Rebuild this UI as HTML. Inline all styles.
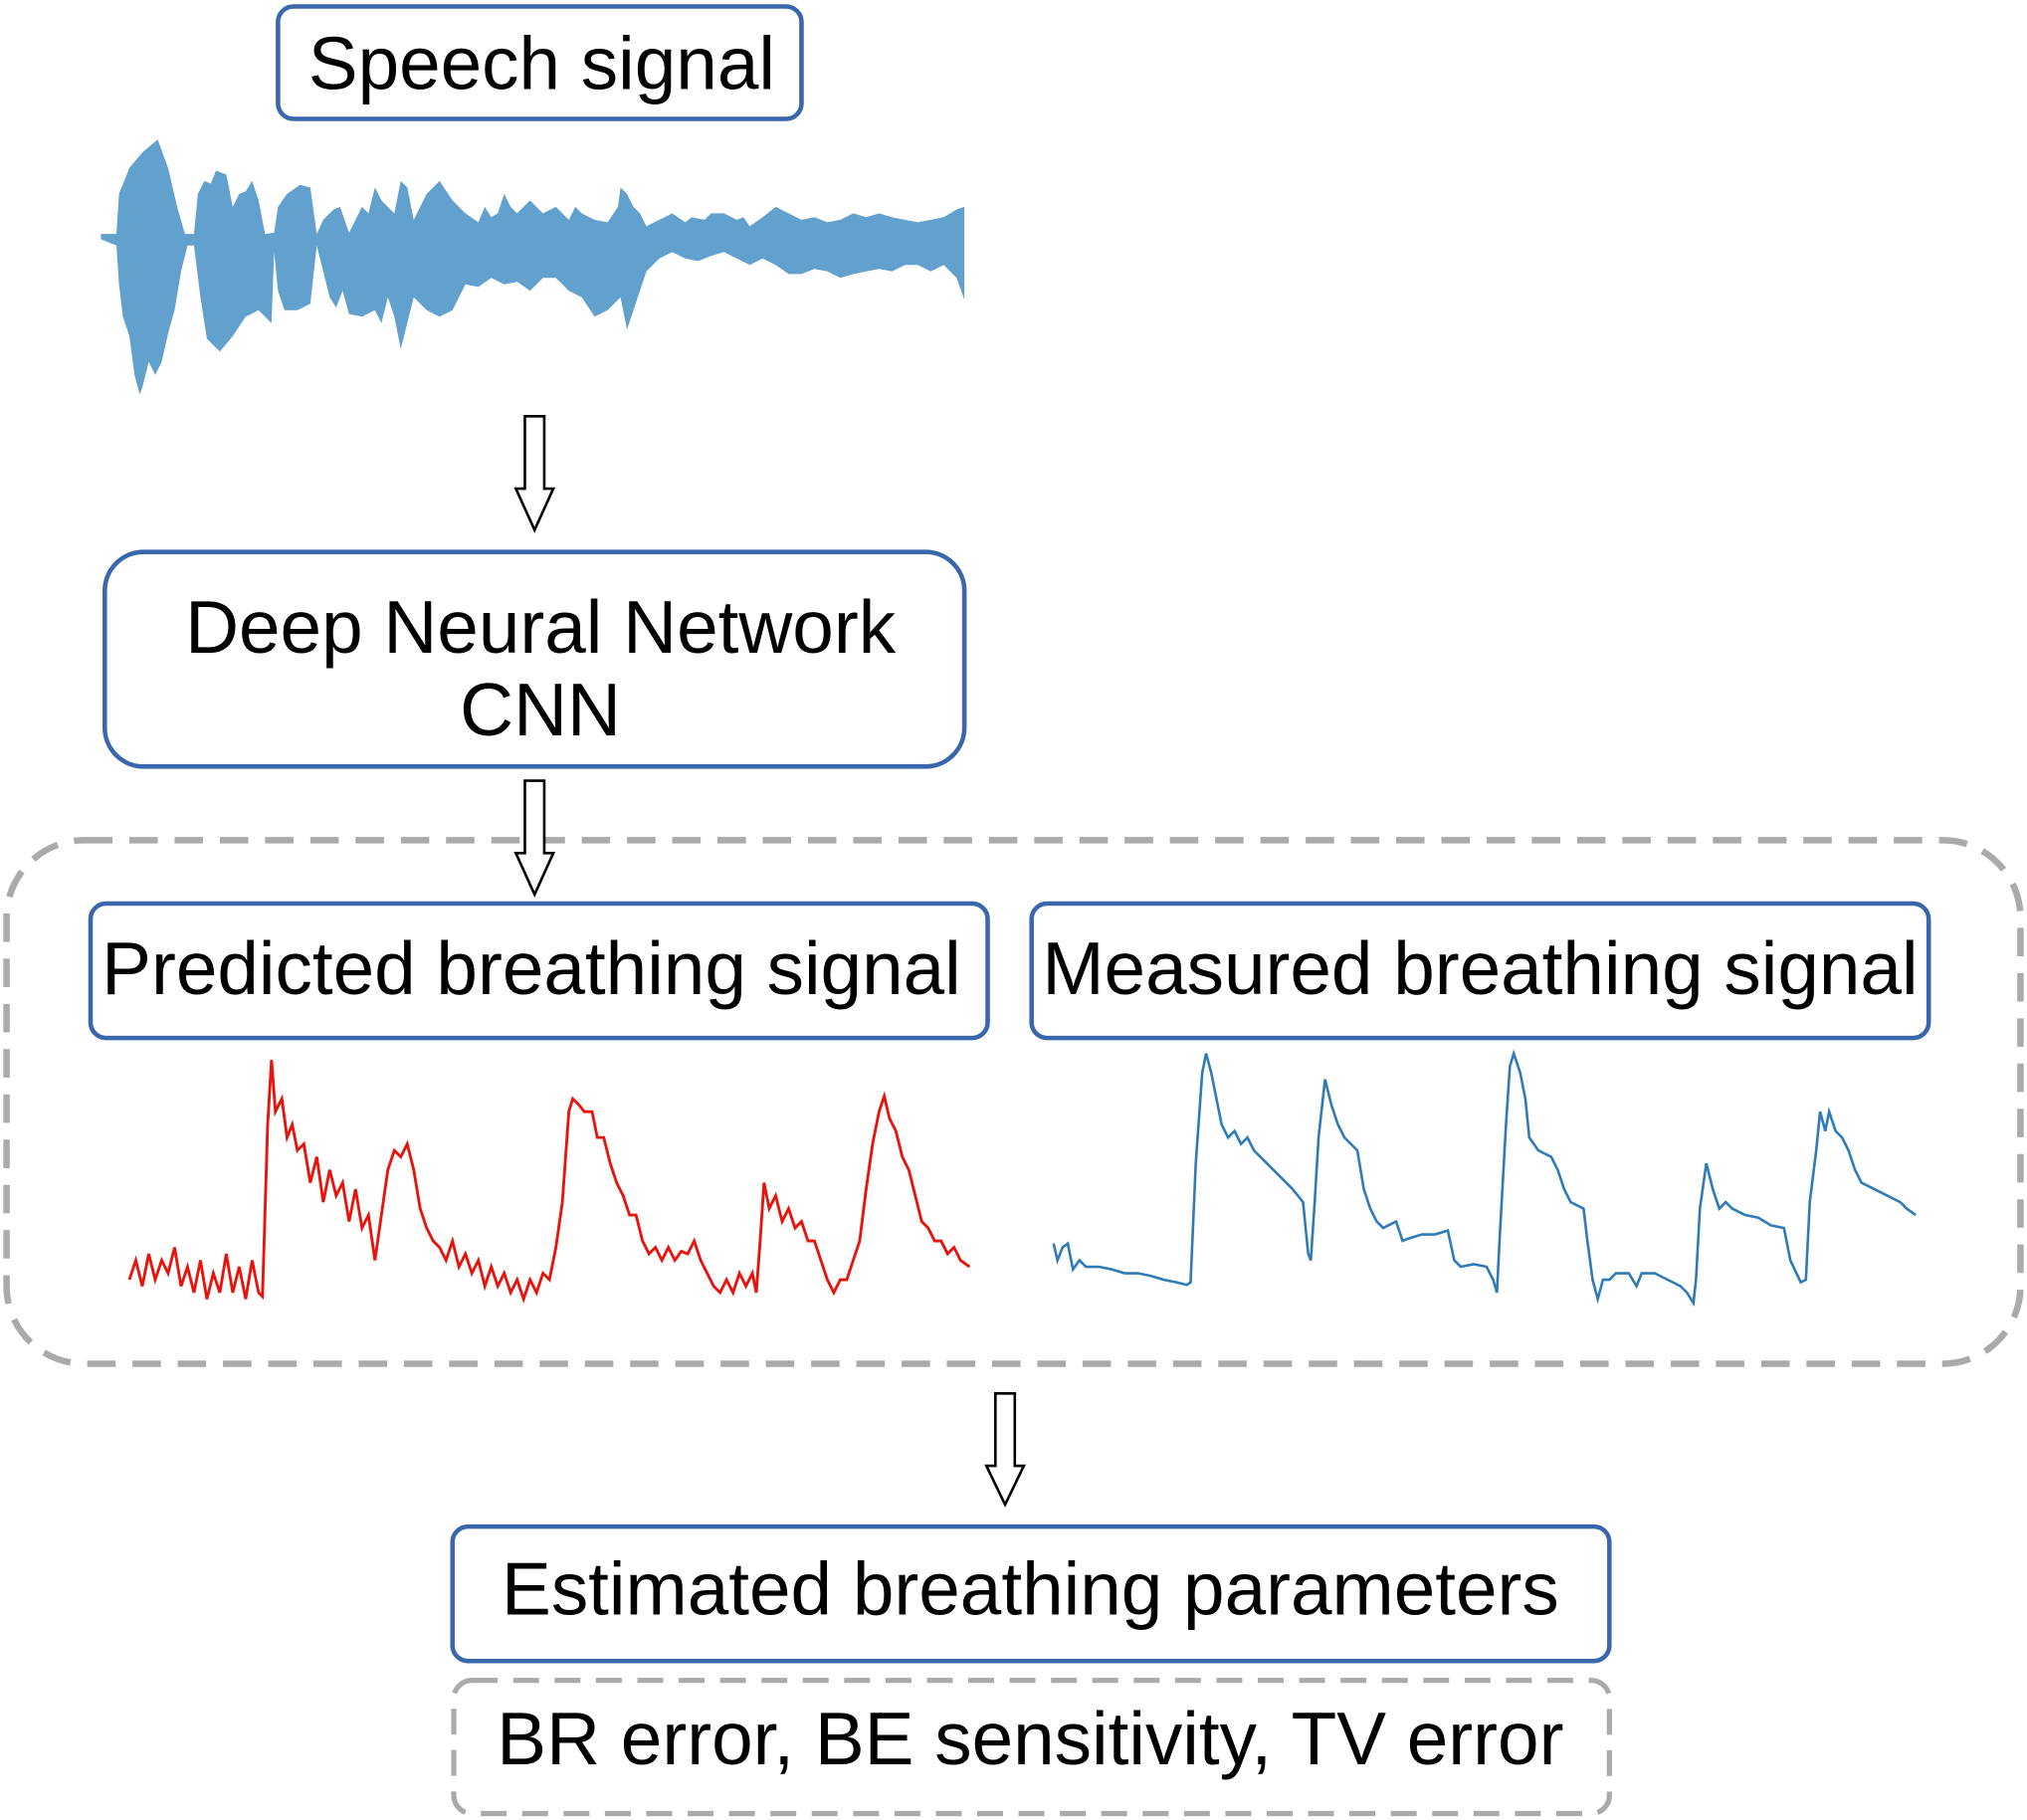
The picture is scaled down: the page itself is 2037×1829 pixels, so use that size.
<!DOCTYPE html>
<html><head><meta charset="utf-8"><style>
html,body{margin:0;padding:0;background:#fff;}
svg{display:block;}
text{font-family:"Liberation Sans",sans-serif;fill:#000;}
</style></head><body>
<svg width="2037" height="1829" viewBox="0 0 1568 1408" xmlns="http://www.w3.org/2000/svg">
<g fill="none" stroke="#3a67ab" stroke-width="3.5">
<rect x="215" y="5" width="405" height="87" rx="12"/>
<rect x="81" y="427" width="665" height="166" rx="30"/>
<rect x="70" y="699" width="694" height="104" rx="12"/>
<rect x="798" y="699" width="694" height="104" rx="12"/>
<rect x="350" y="1181" width="895" height="104" rx="12"/>
</g>
<g fill="none" stroke="#aaaaaa" stroke-width="5" stroke-dasharray="22 13">
<rect x="5" y="650" width="1558" height="405" rx="60"/>
</g>
<g fill="none" stroke="#aaaaaa" stroke-width="4" stroke-dasharray="20 12">
<rect x="351" y="1300" width="894" height="103" rx="14"/>
</g>
<g font-size="57.5" text-anchor="middle">
<text x="419" y="69">Speech signal</text>
<text x="418" y="505">Deep Neural Network</text>
<text x="418" y="569">CNN</text>
<text x="411" y="769">Predicted breathing signal</text>
<text x="1145" y="769">Measured breathing signal</text>
<text x="797" y="1249">Estimated breathing parameters</text>
<text x="797" y="1365">BR error, BE sensitivity, TV error</text>
</g>
<g fill="#fff" stroke="#000" stroke-width="2">
<path d="M406,322 H421 V378 H428 L413.5,410 L399,378 H406 Z"/>
<path d="M406,604 H421 V660 H428 L413.5,692 L399,660 H406 Z"/>
<path d="M770,1078 H785 V1134 H792 L777.5,1164 L763,1134 H770 Z"/>
</g>
<polygon fill="#62a0cd" points="78,181 90,181 92,150 100,130 110,118 122,108 130,130 137,160 143,181 150,181 153,150 158,140 163,142 167,132 175,135 180,160 185,150 190,148 195,140 200,155 205,181 212,180 215,160 222,150 232,143 240,145 245,181 250,170 258,162 263,160 270,180 275,170 280,160 285,165 290,145 295,155 300,160 305,165 310,140 315,145 320,170 330,150 340,140 350,155 360,165 370,172 375,160 380,168 385,165 390,150 395,160 400,165 410,155 420,165 430,160 440,170 445,160 450,165 460,170 470,172 478,160 480,145 485,150 490,160 495,165 500,175 510,170 520,165 530,172 535,168 545,170 550,165 560,165 570,170 575,168 580,175 590,168 600,160 610,165 620,170 630,168 640,172 650,170 660,165 670,168 680,165 690,168 700,170 710,172 720,170 730,168 740,162 746,160 746,232 740,215 730,205 720,210 710,205 700,205 690,210 680,208 670,210 660,212 650,215 640,210 630,208 620,212 610,212 600,205 590,200 580,205 570,200 560,195 550,198 540,202 530,200 520,195 510,200 500,210 495,225 490,240 485,255 480,230 475,235 470,240 460,245 450,230 440,225 430,215 420,215 410,225 400,218 390,220 380,215 370,222 360,220 350,240 340,245 330,240 320,230 310,270 305,245 300,230 295,250 290,240 280,245 270,243 265,225 260,238 255,230 245,190 240,235 230,240 220,240 215,225 212,195 210,250 200,240 190,245 180,260 170,272 160,262 155,230 150,190 145,190 140,210 135,240 130,258 125,280 120,290 115,280 110,300 108,305 104,290 100,260 95,245 92,220 90,190 78,185"/>
<polyline fill="none" stroke="#e8140c" stroke-width="2.2" points="100,990 105,975 110,995 115,970 120,990 125,975 130,985 135,965 140,995 145,980 150,1000 155,975 160,1005 165,985 170,1000 175,970 180,1000 185,980 190,1005 195,975 200,1000 203,1003 207,870 210,820 213,860 218,850 222,880 226,870 230,890 235,885 240,915 245,895 250,930 255,905 260,925 265,915 270,945 275,920 280,950 285,940 290,975 295,940 300,905 305,890 310,895 315,885 320,905 325,935 330,950 335,960 340,965 345,975 350,960 355,980 360,970 365,985 370,975 375,995 380,980 385,995 390,985 395,1000 400,990 405,1005 410,990 415,1000 420,985 425,990 430,965 435,930 440,860 443,850 448,855 452,860 458,860 462,880 467,880 472,900 477,915 482,925 487,940 492,940 497,960 502,970 507,965 512,975 517,965 522,975 527,968 532,970 537,960 542,975 547,985 552,995 557,1000 562,990 567,1000 572,985 577,995 582,985 585,1000 588,960 591,915 595,935 600,925 605,945 610,935 615,950 620,945 625,960 630,960 635,975 640,990 645,1000 650,990 655,990 660,975 665,960 670,920 675,885 680,860 684,848 688,865 693,875 698,895 703,905 708,925 713,945 718,950 723,960 728,960 733,970 738,965 743,975 750,980"/>
<polyline fill="none" stroke="#2f7bb8" stroke-width="2" points="815,962 818,975 822,965 826,962 830,982 835,975 840,980 850,980 860,982 870,985 880,985 890,987 900,990 910,992 918,994 921,992 925,900 930,830 933,815 937,830 941,850 945,870 950,880 955,875 960,885 965,880 970,890 980,900 990,910 1000,920 1008,930 1012,970 1014,975 1017,930 1020,880 1025,835 1030,855 1035,870 1040,880 1045,885 1050,890 1055,920 1060,935 1065,945 1070,950 1080,945 1085,960 1090,958 1100,955 1110,955 1120,952 1125,975 1130,980 1140,978 1150,980 1155,990 1158,1000 1160,960 1165,870 1168,825 1171,815 1176,830 1180,850 1183,880 1190,890 1200,895 1205,905 1210,920 1215,930 1225,935 1228,960 1232,990 1236,1005 1240,990 1245,990 1250,985 1260,985 1266,995 1270,985 1280,985 1290,990 1300,995 1305,1000 1310,1008 1312,990 1315,935 1320,900 1325,920 1330,935 1335,930 1340,935 1350,940 1360,942 1370,948 1380,950 1385,975 1393,992 1397,990 1400,930 1405,890 1408,860 1412,875 1415,860 1420,875 1425,880 1430,890 1435,905 1440,915 1450,920 1460,925 1470,930 1475,935 1482,940"/>
</svg>
</body></html>
